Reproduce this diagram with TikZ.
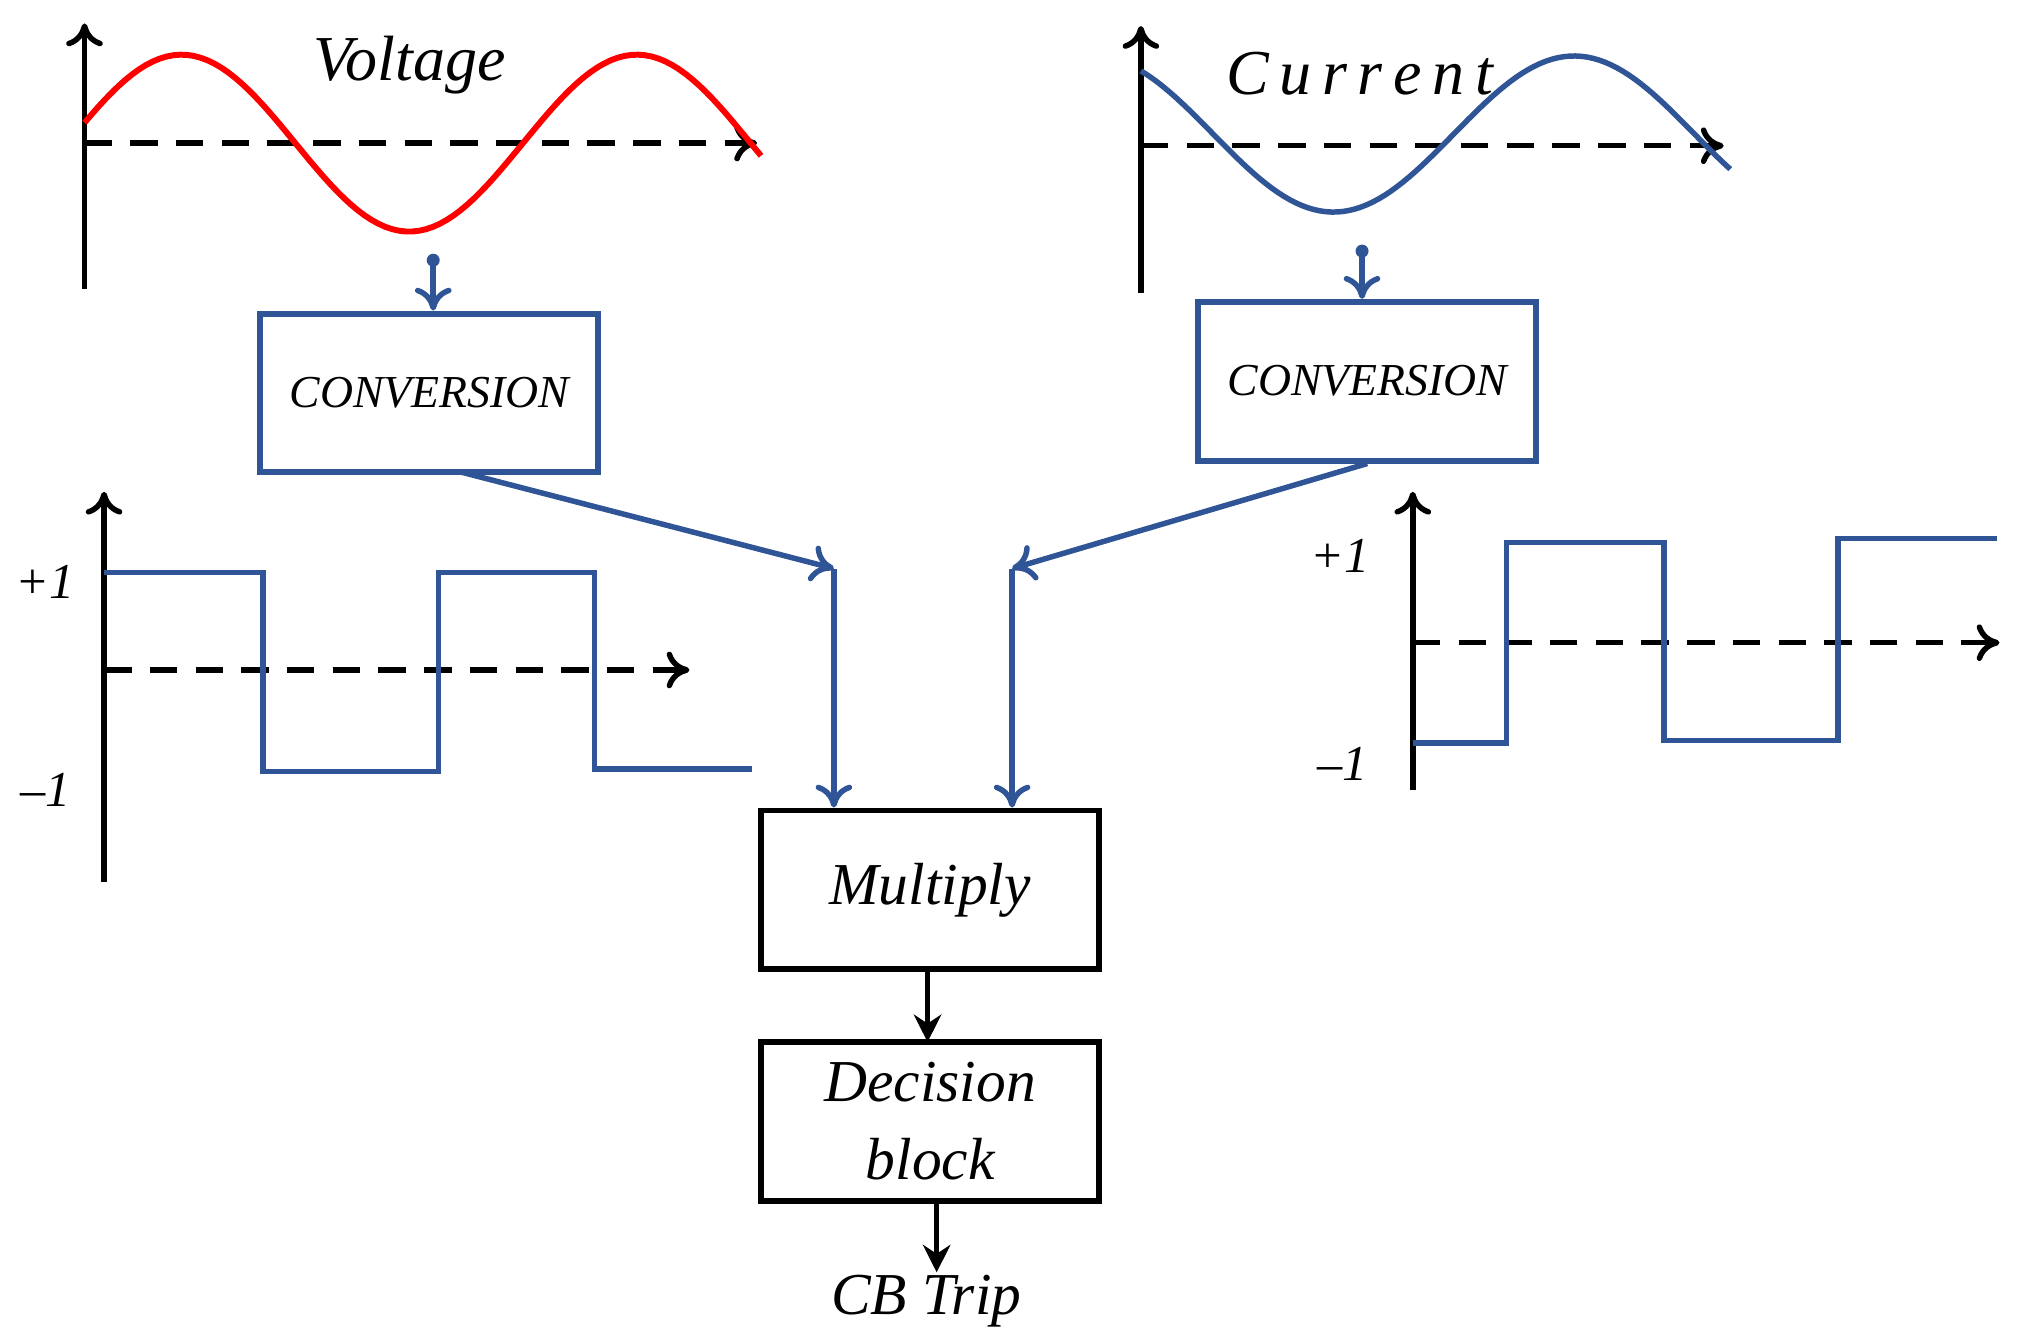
\documentclass[tikz,border=0pt]{standalone}
\usepackage{fontspec}
\setmainfont{Liberation Serif}
\usetikzlibrary{arrows.meta}
\begin{document}
\definecolor{wblue}{RGB}{47,85,151}
\begin{tikzpicture}[x=0.1mm,y=-0.1mm,
  ax/.style={black,line width=1.2pt,-{To[length=5pt,width=8pt]}},
  dax/.style={black,line width=1.2pt,dash pattern=on 6pt off 4pt,-{To[length=5pt,width=8pt]}},
  wave/.style={wblue,line width=1.2pt},
  blk/.style={draw,line width=1.3pt,minimum width=26mm,minimum height=12.2mm,inner sep=0pt,font=\itshape\fontsize{13}{16}\selectfont},
  lab/.style={font=\itshape\fontsize{11}{13}\selectfont},
  barr/.style={wblue,line width=1.2pt,-{To[length=5pt,width=8pt]}}]
\useasboundingbox (0,0) rectangle (1552,1031);
% voltage
\draw[ax] (65,222) -- (65,18);
\draw[dax] (65,110) -- (582,110);
\draw[red,line width=1.3pt,domain=65:585,samples=100,variable=\t] plot (\t,{110-68*sin((\t-52)*1.028571)});
\node[font=\itshape\fontsize{14}{17}\selectfont] (vl) at (315,50) {Voltage};
% current
\draw[ax] (877,225) -- (877,20);
\draw[dax] (877,112) -- (1325,112);
\draw[wave,domain=877:1330,samples=100,variable=\t] plot (\t,{103-60*cos((\t-1210)*0.972973)});
\node[font=\itshape\fontsize{14}{17}\selectfont] (cl) at (1045,57) {C\,u\,r\,r\,e\,n\,t};
% conversion boxes
\node[blk,wblue,text=black,font=\itshape\fontsize{10}{12}\selectfont] (c1) at (330,302) {CONVERSION};
\node[blk,wblue,text=black,font=\itshape\fontsize{10}{12}\selectfont] (c2) at (1051,293) {CONVERSION};
\coordinate (p1) at (333,200);
\coordinate (p2) at (1047,193);
\fill[wblue] (p1) circle (5);
\fill[wblue] (p2) circle (5);
\draw[barr] (p1) -- (c1.north -| p1);
\draw[barr] (p2) -- (c2.north -| p2);
% left square wave
\draw[ax] (80,678) -- (80,378);
\draw[dax] (80,515) -- (530,515);
\draw[wave] (80,440) -- (202,440) -- (202,593) -- (337,593) -- (337,440) -- (457,440) -- (457,591) -- (578,591);
\node[lab] (lp) at (35,447) {+1};
\node[lab] (lm) at (35,607) {–1};
% right square wave
\draw[ax] (1086,607) -- (1086,378);
\draw[dax] (1086,494) -- (1537,494);
\draw[wave] (1086,571) -- (1158,571) -- (1158,417) -- (1279,417) -- (1279,569) -- (1413,569) -- (1413,414) -- (1535,414);
\node[lab] (rp) at (1030,427) {+1};
\node[lab] (rm) at (1032,587) {–1};
% multiply, decision
\node[blk] (mul) at (715,684) {Multiply};
\node[blk,align=center,font=\itshape\fontsize{13}{17}\selectfont] (dec) at (715,862) {Decision\\block};
\node[lab,font=\itshape\fontsize{13}{16}\selectfont] (cb) at (712,1000) {CB Trip};
\coordinate (j1) at (641,437);
\coordinate (j2) at (778,437);
\draw[barr] (355,363) -- (j1);
\draw[barr] (c2.south) -- (j2);
\draw[barr] (j1) -- (j1 |- mul.north);
\draw[barr] (j2) -- (j2 |- mul.north);
\draw[line width=1.2pt,-{Stealth[length=6pt,width=6pt]}] (713,745) -- (713,801);
\draw[line width=1.2pt,-{Stealth[length=6pt,width=6pt]}] (720,923) -- (720,978);
\end{tikzpicture}
\end{document}
